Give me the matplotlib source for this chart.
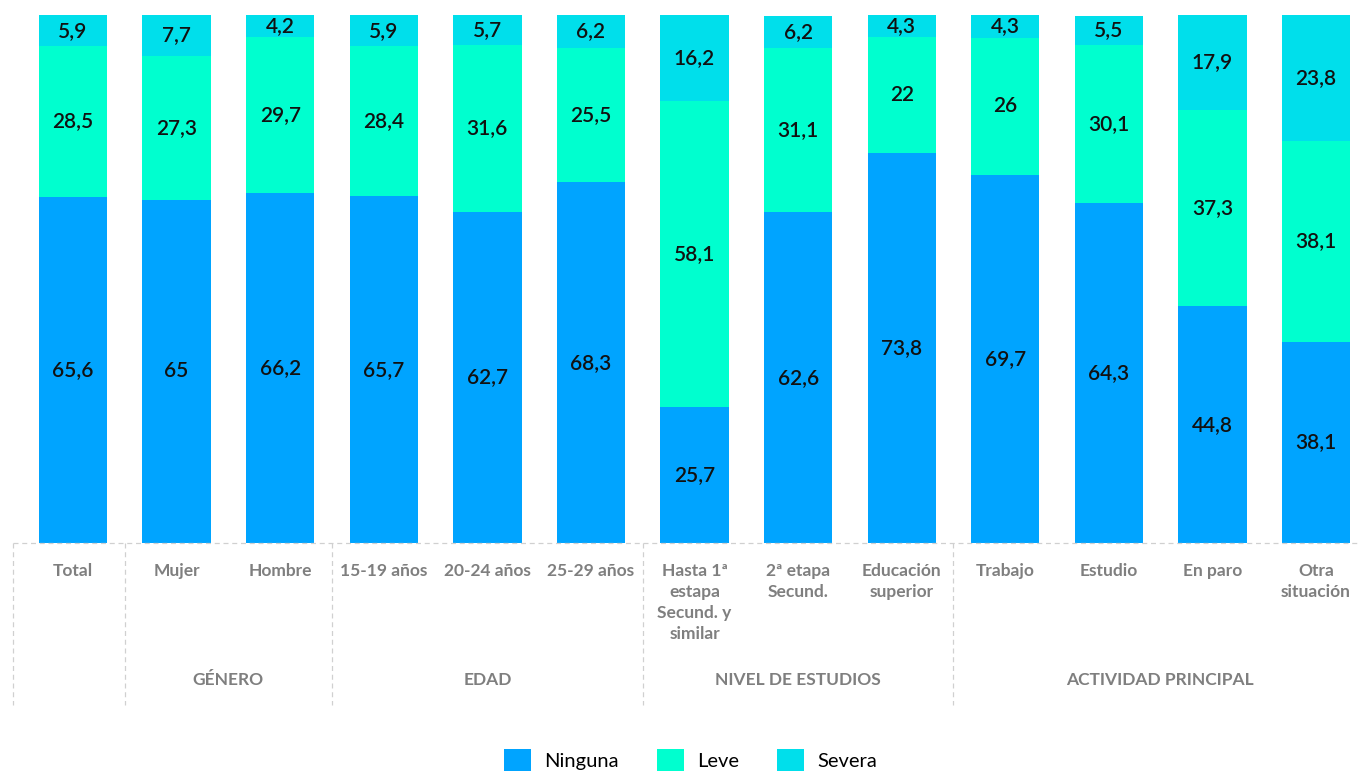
import matplotlib
matplotlib.use('Agg')
import matplotlib.pyplot as plt
from matplotlib.patches import Patch
from matplotlib.lines import Line2D

plt.rcParams['font.family'] = ['Lato', 'DejaVu Sans']

categories = ['Total', 'Mujer', 'Hombre', '15-19 años', '20-24 años', '25-29 años',
              'Hasta 1ª\nestapa\nSecund. y\nsimilar', '2ª etapa\nSecund.', 'Educación\nsuperior',
              'Trabajo', 'Estudio', 'En paro', 'Otra\nsituación']
ninguna = [65.6, 65, 66.2, 65.7, 62.7, 68.3, 25.7, 62.6, 73.8, 69.7, 64.3, 44.8, 38.1]
leve = [28.5, 27.3, 29.7, 28.4, 31.6, 25.5, 58.1, 31.1, 22, 26, 30.1, 37.3, 38.1]
severa = [5.9, 7.7, 4.2, 5.9, 5.7, 6.2, 16.2, 6.2, 4.3, 4.3, 5.5, 17.9, 23.8]
groups = ['GÉNERO', 'EDAD', 'NIVEL DE ESTUDIOS', 'ACTIVIDAD PRINCIPAL']
group_bounds = [-0.58, 0.5, 2.5, 5.5, 8.5]
x_max = 12.415

series = [('Ninguna', ninguna, '#00A4FF'), ('Leve', leve, '#00FFCF'), ('Severa', severa, '#00DFEB')]

fig = plt.figure(figsize=(13.59, 7.71), dpi=100)
ax = fig.add_axes([0, (771 - 543) / 771, 1, 528 / 771])
x = list(range(len(categories)))

def fmt(v):
    return (f'{v:g}').replace('.', ',')

bottom = [0] * len(x)
for name, vals, col in series:
    ax.bar(x, vals, bottom=bottom, width=0.66, color=col, label=name)
    for i, v in enumerate(vals):
        ax.text(i, bottom[i] + v / 2, fmt(v), ha='center', va='center',
                fontsize=15, fontweight='semibold', color='#111111')
    bottom = [b + v for b, v in zip(bottom, vals)]

ax.set_xlim(-0.705, x_max)
ax.set_ylim(0, 100)
ax.axis('off')

# category and group labels below the bars
trans = ax.get_xaxis_transform()
for i, c in enumerate(categories):
    ax.text(i, -0.037, c, transform=trans, ha='center', va='top', fontsize=12.5,
            fontweight='bold', color='#7f7f7f', linespacing=1.4)
ends = group_bounds[2:] + [12.48]
for name, start, end in zip(groups, group_bounds[1:], ends):
    ax.text((start + end) / 2, -0.259, name, transform=trans, ha='center', va='center',
            fontsize=12.5, fontweight='bold', color='#7f7f7f')

# dashed separators
sep_kw = dict(color='#d0d0d0', lw=0.9, ls=(0, (4, 3)), transform=trans, clip_on=False)
for b in group_bounds:
    ax.add_line(Line2D([b, b], [0, -0.307], **sep_kw))
ax.add_line(Line2D([group_bounds[0], x_max], [0, 0], **sep_kw))

handles = [Patch(facecolor=c, label=n) for n, _, c in series]
fig.legend(handles=handles, loc='center', bbox_to_anchor=(0.508, 11 / 771), ncol=3,
           frameon=False, fontsize=14.5, handlelength=1.35, handleheight=1.25,
           columnspacing=1.9, handletextpad=0.65, borderpad=0)

fig.savefig('out.png', dpi=100)
